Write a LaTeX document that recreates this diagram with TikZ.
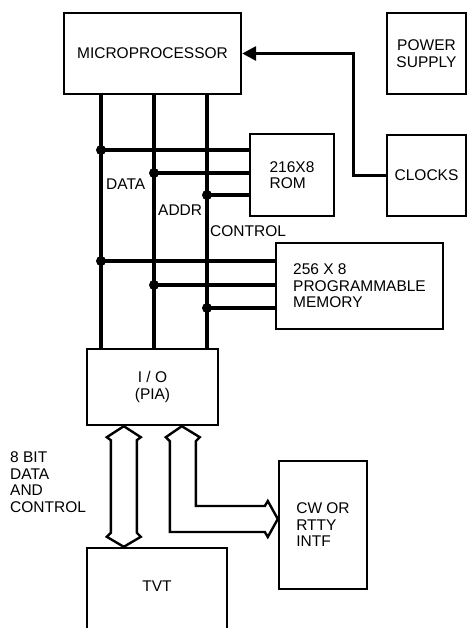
\documentclass[tikz,border=0pt]{standalone}
\usepackage{fontspec}
\setmainfont{Liberation Sans}
\usetikzlibrary{arrows.meta,positioning,calc}
\newcommand\blockfont{\fontsize{15.5}{16.5}\selectfont}

\begin{document}
\begin{tikzpicture}[x=1pt,y=-1pt,
  box/.style={draw,line width=2.4pt,inner sep=0pt,font=\blockfont},
  lbl/.style={font=\blockfont,inner sep=0pt,align=left},
  bus/.style={line width=3.2pt},
  dot/.style={circle,fill,inner sep=0pt,minimum size=10pt},
  fat/.style={draw,line width=2.4pt,line join=miter}]
  \useasboundingbox (0,0) rectangle (467,628);

  % Blocks
  \node[box,minimum width=177,minimum height=81] (micro) at (152.5,53.5) {MICROPROCESSOR};
  \node[box,minimum width=79,minimum height=81,align=center] (power) at (426.5,53.5) {POWER\\SUPPLY};
  \node[box,minimum width=79,minimum height=81] (clocks) at (426.5,175.5) {CLOCKS};
  \node[box,minimum width=84,minimum height=82,align=left] (rom) at (292,175) {216X8\\ROM};
  \node[box,minimum width=167,minimum height=86,align=left] (ram) at (359.5,286) {256 X 8\\PROGRAMMABLE\\MEMORY};
  \node[box,minimum width=131,minimum height=76,align=center] (io) at (152.5,387) {I / O\\(PIA)};
  \node[box,minimum width=88,minimum height=128,align=left] (cw) at (323,525) {CW OR\\RTTY\\INTF};
  \node[box,minimum width=140,minimum height=92] (tvt) at (157,594) {};
  \node[lbl,below=34pt of tvt.north] (tvttext) {TVT};

  % Clock line
  \draw[bus,-{Triangle[length=14pt,width=14pt]}] (clocks.west) -- ++(-32,0) |- (micro.east);

  % Buses
  \coordinate (dbus) at (101,0);
  \coordinate (abus) at (154,0);
  \coordinate (cbus) at (207,0);
  \foreach \b in {dbus,abus,cbus}
    \draw[bus] (micro.south -| \b) -- (io.north -| \b);

  % Taps to ROM and memory
  \foreach \b/\y/\m in {dbus/150/rom,abus/173/rom,cbus/195/rom,dbus/261/ram,abus/285/ram,cbus/308/ram}{
    \coordinate (t) at ($(\b)+(0,\y)$);
    \draw[bus] (t) -- (\m.west |- t);
    \node[dot] at (t) {};
  }
  \node[lbl,anchor=west] (datalbl) at (106,184) {DATA};
  \node[lbl,anchor=west] (addrlbl) at (158,210) {ADDR};
  \node[lbl,anchor=west] (ctrllbl) at (210,231) {CONTROL};

  % Wide arrows
  \path ($(io.south west)+(38,0)$) coordinate (ua)
        ($(tvt.north west)+(38,0)$) coordinate (ub)
        ($(io.south west)+(96,0)$) coordinate (uc)
        ($(cw.west)+(0,-6)$) coordinate (uw);
  \draw[fat] (ua) -- ++(17,11) -- ++(-4,3) -- ($(ub)+(13,-14)$) -- ++(4,4) -- (ub)
    -- ++(-17,-10) -- ++(4,-4) -- ($(ua)+(-13,14)$) -- ++(-4,-3) -- cycle;
  \draw[fat] (uc) -- ++(18,11) -- ++(-4,4) |- ($(uw)+(-13,-13)$) -- ++(3,-5) -- (uw)
    -- ++(-10,18) -- ++(-3,-5) -| ($(uc)+(-12,15)$) -- ++(-4,-4) -- cycle;
  \node[lbl,anchor=west] (buslbl) at (10,482) {8 BIT\\DATA\\AND\\CONTROL};
\end{tikzpicture}
\end{document}
